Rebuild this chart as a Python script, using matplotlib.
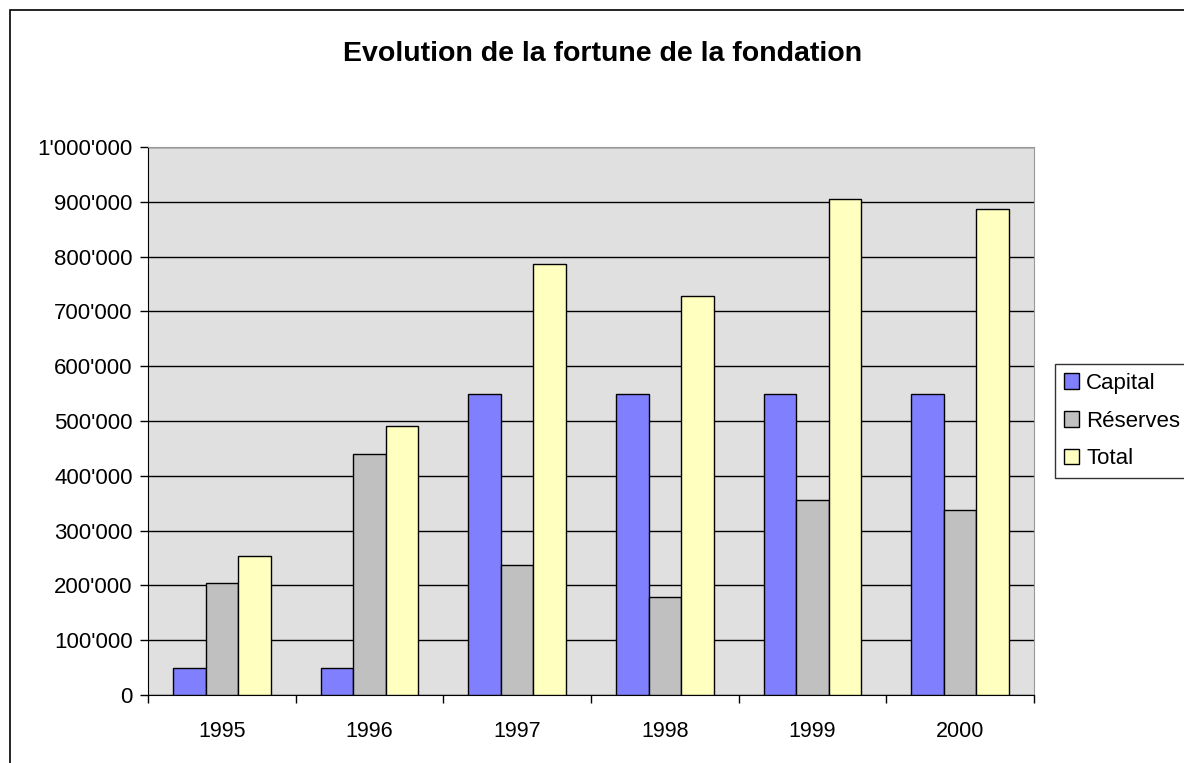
import matplotlib
matplotlib.use("Agg")
import matplotlib.pyplot as plt
from matplotlib.patches import Rectangle
from matplotlib.ticker import FuncFormatter, FixedLocator
import numpy as np

years = ["1995", "1996", "1997", "1998", "1999", "2000"]
capital = [50000, 50000, 550000, 550000, 550000, 550000]
reserves = [204000, 440000, 237000, 179000, 355000, 337000]
total = [254000, 490000, 787000, 729000, 905000, 887000]
series_names = ["Capital", "Réserves", "Total"]
colors = ["#8080FF", "#C0C0C0", "#FFFFC0"]

plt.rcParams["font.family"] = ["Liberation Sans", "DejaVu Sans"]

W, H = 1184, 763
fig = plt.figure(figsize=(W / 100, H / 100), dpi=100)
ax = fig.add_axes([148 / W, 1 - 695 / H, (1034 - 148) / W, (695 - 147) / H])

# outer chart frame
fig.patches.append(Rectangle((10 / W, -0.01), 1.02, 1 - 10 / H + 0.01, transform=fig.transFigure,
                             fill=False, edgecolor="black", linewidth=1.2))

x = np.arange(len(years))
bw = 0.22
for i, (vals, name, c) in enumerate(zip([capital, reserves, total], series_names, colors)):
    ax.bar(x + (i - 1) * bw, vals, bw, color=c, edgecolor="black", linewidth=1, label=name, zorder=3)

ax.set_facecolor("#E0E0E0")
ax.set_xlim(-0.5, len(years) - 0.5)
ax.set_ylim(0, 1000000)
ax.set_yticks(np.arange(0, 1000001, 100000))
ax.yaxis.set_major_formatter(FuncFormatter(lambda v, p: f"{int(v):,}".replace(",", "'")))
ax.grid(axis="y", color="black", linewidth=1, zorder=1)
ax.set_axisbelow(True)

ax.set_xticks(x)
ax.set_xticklabels(years)
ax.xaxis.set_minor_locator(FixedLocator(np.arange(-0.5, len(years), 1)))
ax.tick_params(axis="x", which="major", length=0, pad=19, labelsize=15.5)
ax.tick_params(axis="x", which="minor", length=6, direction="out", width=1)
ax.tick_params(axis="y", length=6, direction="out", width=1, labelsize=16, pad=5)

for s in ["top", "right"]:
    ax.spines[s].set_color("#999999")
for s in ["left", "bottom"]:
    ax.spines[s].set_color("black")

fig.text(603 / W, 1 - 54 / H, "Evolution de la fortune de la fondation", ha="center", va="center",
         fontsize=20.5, fontweight="bold")

leg = fig.legend(loc="upper left", bbox_to_anchor=(1055 / W, 1 - 364 / H), frameon=True, fancybox=False,
                 edgecolor="black", fontsize=16, handlelength=0.7, handleheight=0.7, handletextpad=0.3,
                 labelspacing=0.75, borderpad=0.4, borderaxespad=0)
leg.get_frame().set_linewidth(1)

fig.savefig("out.png", dpi=100)
